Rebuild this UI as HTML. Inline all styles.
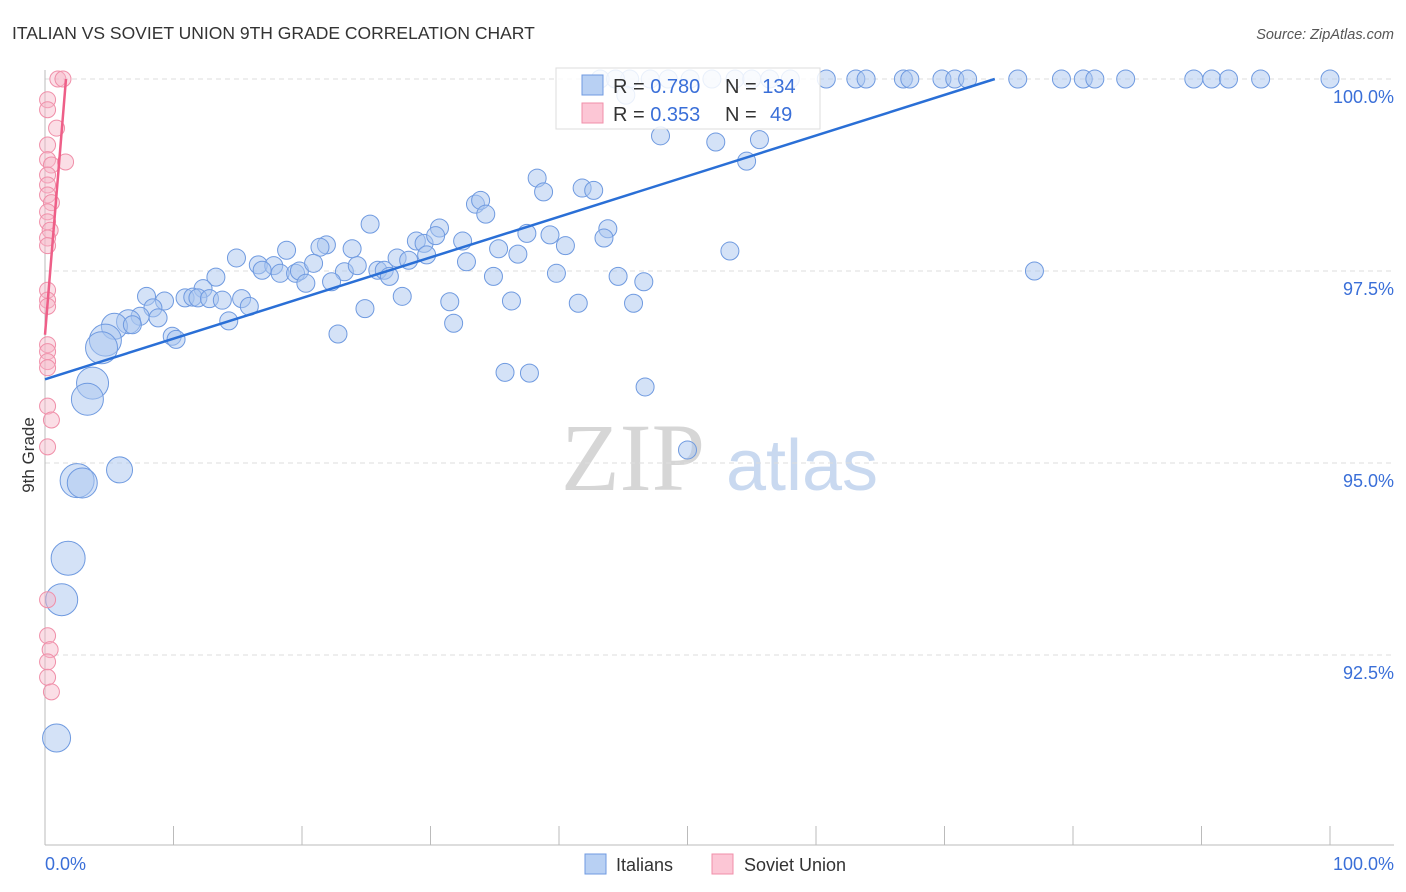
<!DOCTYPE html>
<html><head><meta charset="utf-8"><style>
body{margin:0;background:#fff;font-family:"Liberation Sans",sans-serif;}
#wrap{position:relative;width:1406px;height:892px;overflow:hidden}
</style></head><body>
<div id="wrap">
<svg id="chart" width="1406" height="892">
<text x="12" y="39" font-size="17.5" fill="#333">ITALIAN VS SOVIET UNION 9TH GRADE CORRELATION CHART</text>
<text x="1394" y="39" font-size="14.5" fill="#555" font-style="italic" text-anchor="end">Source: ZipAtlas.com</text>
<text x="633" y="490" font-size="96" fill="#d6d6d6" font-family="Liberation Serif,serif" text-anchor="middle">ZIP</text>
<text x="802" y="490" font-size="72" fill="#c9d9f0" text-anchor="middle">atlas</text>
<g id="grid"></g><g id="axes"></g><g id="pts"></g><g id="trend"></g>
<text transform="translate(34,455) rotate(-90)" font-size="17" fill="#333" text-anchor="middle">9th Grade</text>
<g>
<rect x="556" y="68" width="264" height="61" fill="#fff" fill-opacity="0.85" stroke="#ddd"/>
<rect x="582" y="75" width="21" height="20" fill="#b8d0f3" stroke="#6f9ae0"/>
<rect x="582" y="103" width="21" height="20" fill="#fcc6d5" stroke="#f08fa9"/>
<text x="613" y="93" font-size="20" fill="#333">R = <tspan fill="#3a6fd8">0.780</tspan><tspan x="725">N = </tspan><tspan fill="#3a6fd8">134</tspan></text>
<text x="613" y="121" font-size="20" fill="#333">R = <tspan fill="#3a6fd8">0.353</tspan><tspan x="725">N = </tspan><tspan x="770" fill="#3a6fd8">49</tspan></text>
</g>
<text x="45" y="870" font-size="18" fill="#3a6fd8">0.0%</text>
<text x="1394" y="870" font-size="18" fill="#3a6fd8" text-anchor="end">100.0%</text>
<g>
<rect x="585" y="854" width="21" height="20" fill="#b8d0f3" stroke="#6f9ae0"/>
<text x="616" y="871" font-size="18" fill="#333">Italians</text>
<rect x="712" y="854" width="21" height="20" fill="#fcc6d5" stroke="#f08fa9"/>
<text x="744" y="871" font-size="18" fill="#333">Soviet Union</text>
</g>
</svg></div>
<script>
const yTicks=[100,97.5,95,92.5];
const yTickLabels=["100.0%","97.5%","95.0%","92.5%"];
const blueX=[45.5,47.1,48.5,50.2,51.9,53.7,55.0,56.4,58.0,60.8,63.1,63.9,66.8,67.3,69.8,70.8,71.8,75.7,79.1,80.8,81.7,84.1,89.4,90.8,92.1,94.6,100,43.2,44.4,
45.2,47.9,52.2,55.6,54.6,38.3,38.8,41.8,42.7,33.5,33.9,34.3,25.3,30.7,43.8,37.5,39.3,40.5,43.5,53.3,32.5,28.9,29.5,30.4,35.3,36.8,21.9,21.4,23.9,18.8,14.9,16.6,17.8,16.9,18.3,19.5,19.8,20.9,23.3,24.3,25.9,26.4,26.8,27.4,28.3,29.7,32.8,34.9,39.8,44.6,46.6,13.3,12.3,20.3,22.3,77.0,7.9,10.9,11.5,11.9,12.8,13.8,15.3,15.9,9.3,8.4,7.4,8.8,6.5,5.4,6.8,14.3,9.9,10.2,24.9,27.8,31.5,36.3,41.5,45.8,31.8,22.8,4.7,4.4,35.8,37.7,46.7,3.7,3.3,50.0,5.8,2.5,2.9,1.8,1.3,0.9];
const blueY=[100,100,100,100,100,100,100,100,100,100,100,100,100,100,100,100,100,100,100,100,100,100,100,100,100,100,100,100,100,
99.79,99.26,99.18,99.21,98.93,98.71,98.53,98.58,98.55,98.37,98.42,98.24,98.11,98.06,98.05,97.99,97.97,97.83,97.93,97.76,97.89,97.89,97.86,97.96,97.79,97.72,97.84,97.81,97.79,97.77,97.67,97.58,97.57,97.51,97.47,97.47,97.5,97.6,97.49,97.57,97.51,97.51,97.43,97.67,97.64,97.71,97.62,97.43,97.47,97.43,97.36,97.42,97.27,97.34,97.36,97.5,97.17,97.15,97.16,97.15,97.14,97.12,97.14,97.04,97.11,97.02,96.91,96.89,96.84,96.78,96.8,96.85,96.65,96.61,97.01,97.17,97.1,97.11,97.08,97.08,96.82,96.68,96.6,96.5,96.18,96.17,95.99,96.04,95.83,95.17,94.91,94.77,94.74,93.76,93.22,91.42];
const blueSize=[];
const bigIdx={"4.7":16,"4.4":16,"3.7":16,"3.3":16,"5.8":13,"2.5":17,"2.9":15,"1.8":17,"1.3":16,"0.9":14,"5.4":13,"6.5":12};
const pinkX=[1.0,1.4,0.2,0.2,0.9,0.2,0.2,0.5,1.6,0.2,0.2,0.2,0.5,0.2,0.2,0.4,0.2,0.2,0.2,0.2,0.2,0.2,0.2,0.2,0.2,0.2,0.5,0.2,0.2,0.2,0.4,0.2,0.2,0.5];
const pinkY=[100,100,99.73,99.6,99.36,99.14,98.95,98.88,98.92,98.75,98.62,98.49,98.39,98.27,98.14,98.03,97.93,97.83,97.25,97.12,97.04,96.54,96.45,96.32,96.24,95.74,95.56,95.21,93.22,92.75,92.57,92.41,92.21,92.02];
const blueTrend=[96.09,0.0529];
const pinkTrend=[96.67,2.04];
const NS="http://www.w3.org/2000/svg";
const X=v=>45+v*12.85, Y=v=>79+(100-v)*76.8;
function mk(tag,attrs,parent){const e=document.createElementNS(NS,tag);for(const k in attrs)e.setAttribute(k,attrs[k]);parent.appendChild(e);return e;}
const grid=document.getElementById('grid'),axes=document.getElementById('axes'),pts=document.getElementById('pts'),tr=document.getElementById('trend');
yTicks.forEach((t,i)=>{
 const l=mk('line',{x1:45,x2:1394,y1:Y(t),y2:Y(t),stroke:'#ddd','stroke-dasharray':'5,4'},grid);
 
 
 const tx=mk('text',{x:1394,y:Y(t)+24,'font-size':18,fill:'#3a6fd8','text-anchor':'end'},grid);
 tx.textContent=yTickLabels[i];
 
 
});
const ya=mk('line',{x1:45,x2:45,y1:70,y2:845,stroke:'#bbb'},axes);


const xa=mk('line',{x1:45,x2:1394,y1:845,y2:845,stroke:'#bbb'},axes);


for(let k=0;k<=10;k++){const t=mk('line',{x1:X(k*10),x2:X(k*10),y1:826,y2:845,stroke:'#bbb'},axes);
 
 }
blueX.forEach((x,i)=>{
 const r=bigIdx[String(x)]&&blueY[i]<97?bigIdx[String(x)]:9;
 const c=mk('circle',{cx:X(x),cy:Y(blueY[i]),r:r,fill:'#a9c6f0','fill-opacity':0.5,stroke:'#6f9ae0','stroke-width':1},pts);
 
 
});
pinkX.forEach((x,i)=>{
 const c=mk('circle',{cx:X(x),cy:Y(pinkY[i]),r:8,fill:'#f7b6c8','fill-opacity':0.45,stroke:'#f08fa9','stroke-width':1},pts);
 
 
});
const bEnd=(100-blueTrend[0])/blueTrend[1];
const bl=mk('line',{x1:X(0),y1:Y(blueTrend[0]),x2:X(bEnd),y2:Y(100),stroke:'#2a6fd6','stroke-width':2.5},tr);


const pEnd=(100-pinkTrend[0])/pinkTrend[1];
const pl=mk('line',{x1:X(0),y1:Y(pinkTrend[0]),x2:X(pEnd),y2:Y(100),stroke:'#ee5f88','stroke-width':2.5},tr);


</script>
</body></html>
